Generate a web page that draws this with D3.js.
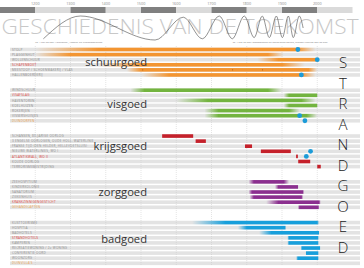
<!DOCTYPE html>
<html>
<head>
<meta charset="utf-8">
<script src="https://cdn.jsdelivr.net/npm/d3@7"></script>
<style>
  body { margin: 0; background: #fff; }
  svg { display: block; font-family: 'Open Sans', sans-serif; }
</style>
</head>
<body>
<script>
const centuryTicks = [1200, 1300, 1400, 1500, 1600, 1700, 1800, 1900, 2000];
const bandStarts = [1100, 1200, 1300, 1400, 1500, 1600, 1700, 1800, 1900, 2000];

// golfbeweging: toppen en dalen (jaar, niveau 0..1)
const waveYears = [1223, 1328, 1540, 1620, 1674, 1722, 1759, 1793, 1821, 1844, 1864, 1884, 1901, 1918, 1932, 1949, 1960];
const waveLevels = [0.05, 1, 0, 0.95, 0.05, 1, 0.05, 1, 0.1, 1, 0.1, 1, 0.1, 1, 0.1, 1, 0.5];

const title = 'GESCHIEDENIS VAN DE TOEKOMST';
const captionLeft = 'ca. 1 per 90 jaar: Agrarische-, Vissers- en Kustsamenleving';
const captionRight = 'ca. 1 per 25 jaar: economische en toeristische golven, nieuwe functies aan de kust';
const sideWord = 'STRANDGOED';

const groupNames = ['schuurgoed', 'visgoed', 'krijgsgoed', 'zorggoed', 'badgoed'];

// bars: [begin vervaging, begin, einde, einde vervaging] in jaren
const schuurLabels = ['STOLP', 'PLAGGENHUT', 'WOLLENSCHUUR', 'SCHAPENBOET', 'MEESTOOF / SCHOENMAKERIJ / VLAS', 'HALLENBOERDERIJ'];
const schuurKinds = ['', '', '', 'focus', '', ''];
const schuurBars = [[1200, 1380, 1945, 1995], [1200, 1300, 1860, 1905], [1830, 1890, 2000, 2002], [1380, 1500, 1900, 1965], [1460, 1500, 1975, 2000], [1500, 1580, 1955, 1995]];
const schuurDots = [[0, 1945], [2, 2000], [5, 1955]];
const schuurMarks = [[4, 1505], [4, 1760], [4, 1845]];

const visLabels = ['WINDSCHUUR', 'VISAFSLAG', 'HAVENTOREN', 'KOELHUIZEN', 'ROKERIJEN', 'VISSERSHUISJES', 'DUINDORPEN'];
const visKinds = ['', 'focus', '', '', '', '', 'toekomst'];
const visBars = [[1470, 1510, 1860, 1900], [1905, 1920, 2000, 2000], [1600, 1690, 1955, 1995], [1905, 1920, 2000, 2000], [1680, 1720, 1920, 1950], [1680, 1720, 1970, 2000], null];
const visDots = [[5, 1950], [6, 1965]];

const krijgLabels = ['SCHANSEN, 80-JARIGE OORLOG', '3 ENGELSE OORLOGEN, OUDE HOLL. WATERLINIE', 'FRANSE TIJD (DEN HELDER, HELLEVOETSLUIS)', 'NIEUWE WATERLINIES, WO I', 'ATLANTIKWALL, WO II', 'KOUDE OORLOG', 'TERRORISMEBESTRIJDING'];
const krijgKinds = ['', '', '', '', 'focus', '', ''];
const krijgBars = [[1560, 1560, 1648, 1648], [1655, 1655, 1684, 1684], [1795, 1795, 1815, 1815], [1840, 1840, 1925, 1925], [1940, 1940, 1945, 1945], [1946, 1946, 1980, 1980], [2000, 2000, 2010, 2010]];
const krijgDots = [[3, 1981], [4, 1969]];

const zorgLabels = ['ZEEHOSPITIUM', 'KINDERKOLONIE', 'SANATORIUM', 'ZIEKENHUIS', 'KRANKZINNIGENGESTICHT', 'GEHANDICAPTEN'];
const zorgKinds = ['', '', '', '', 'focus', 'toekomst'];
const zorgBars = [[1805, 1820, 1905, 1920], [1880, 1890, 1945, 1947], [1805, 1815, 1960, 1962], [1808, 1820, 1955, 1960], [1855, 1890, 2005, 2010], [1945, 1950, 2003, 2005]];
const zorgDots = [];

const badLabels = ['KUSTTOERISME', 'HOSPITIA', 'BADHOTELS', 'STRANDHOTELS', 'KAMPEREN', 'RECREATIEWONING / 2e WONING', 'CONFERENTIE OORD', 'WOONZORG', "DUINVILLA'S"];
const badKinds = ['', '', '', 'focus', '', '', '', '', 'toekomst'];
const badBars = [[1645, 1740, 2000, 2005], [1775, 1800, 1910, 1910], [1835, 1870, 2005, 2005], [1915, 1920, 2003, 2003], [1915, 1920, 2003, 2003], [1955, 1955, 2008, 2008], [1968, 1968, 2003, 2003], [1940, 1945, 2003, 2003], null];
const badDots = [];

const groupColors = ['#f39531', '#73b43f', '#c5212b', '#8b2f8f', '#179fdb'];
const kindColors = { '': '#8c8c8c', focus: '#e2423b', toekomst: '#eda54c' };

const width = 364;
const height = 268;

function init() {
  const svg = d3.select('body')
    .append('svg')
    .attr('width', width)
    .attr('height', height);
  const defs = svg.append('defs');

  const x = d3.scaleLinear().domain([1100, 2100]).range([0, 352.5]);

  // tijdbalk
  svg.selectAll('rect.band')
    .data(bandStarts)
    .enter()
    .append('rect')
    .attr('x', d => x(d))
    .attr('y', 7)
    .attr('width', d => x(d + 100) - x(d))
    .attr('height', 6)
    .attr('fill', (d, i) => i % 2 === 0 ? '#808080' : '#dadada');

  svg.selectAll('text.tick')
    .data(centuryTicks)
    .enter()
    .append('text')
    .attr('x', d => x(d))
    .attr('y', 5)
    .attr('text-anchor', 'middle')
    .attr('font-size', 3.8)
    .attr('fill', '#8a8a8a')
    .text(d => d);

  svg.append('text')
    .attr('x', 1.5)
    .attr('y', 33.5)
    .attr('font-size', 20)
    .attr('font-weight', 300)
    .attr('fill', '#c8c8c8')
    .attr('textLength', 357)
    .attr('lengthAdjust', 'spacingAndGlyphs')
    .text(title);

  const yWave = d3.scaleLinear().domain([0, 1]).range([40, 16]);
  const wave = d3.line()
    .x(d => x(d[0]))
    .y(d => yWave(d[1]))
    .curve(d3.curveMonotoneX);
  svg.append('path')
    .attr('d', wave(d3.zip(waveYears, waveLevels)))
    .attr('fill', 'none')
    .attr('stroke', '#4a4a4a')
    .attr('stroke-width', 0.6);

  svg.append('text').attr('x', x(1200)).attr('y', 43.3)
    .attr('font-size', 2.5).attr('fill', '#777').text(captionLeft);
  svg.append('text').attr('x', x(1760)).attr('y', 43.3)
    .attr('font-size', 2.5).attr('fill', '#777').text(captionRight);

  // groepen en rijen
  const groups = [
    { labels: schuurLabels, kinds: schuurKinds, bars: schuurBars, dots: schuurDots, marks: schuurMarks },
    { labels: visLabels, kinds: visKinds, bars: visBars, dots: visDots, marks: [] },
    { labels: krijgLabels, kinds: krijgKinds, bars: krijgBars, dots: krijgDots, marks: [] },
    { labels: zorgLabels, kinds: zorgKinds, bars: zorgBars, dots: zorgDots, marks: [] },
    { labels: badLabels, kinds: badKinds, bars: badBars, dots: badDots, marks: [] }
  ];
  let idx = 0;
  groups.forEach((g, gi) => {
    g.start = idx;
    g.name = groupNames[gi];
    g.color = groupColors[gi];
    idx += g.labels.length + 2;
  });
  const lastRow = idx - 3;
  const y = d3.scaleLinear().domain([0, lastRow]).range([49.5, 263.3]);
  const rowH = 3.6;

  const rows = groups.flatMap((g, gi) => g.labels.map((label, i) => ({
    row: g.start + i, label, kind: g.kinds[i], bar: g.bars[i], color: g.color, gi
  })));

  svg.selectAll('rect.row')
    .data(rows)
    .enter()
    .append('rect')
    .attr('x', 10)
    .attr('y', d => y(d.row) - rowH / 2)
    .attr('width', 350)
    .attr('height', rowH)
    .attr('fill', '#e3e3e3');

  svg.selectAll('line.grid')
    .data(centuryTicks)
    .enter()
    .append('line')
    .attr('x1', d => x(d))
    .attr('x2', d => x(d))
    .attr('y1', 46)
    .attr('y2', 266)
    .attr('stroke', '#c9c9c9')
    .attr('stroke-width', 0.5)
    .attr('stroke-dasharray', '1,1');

  svg.selectAll('text.rowlabel')
    .data(rows)
    .enter()
    .append('text')
    .attr('x', 12)
    .attr('y', d => y(d.row) + 1.1)
    .attr('font-size', 3.1)
    .attr('letter-spacing', 0.25)
    .attr('fill', d => kindColors[d.kind])
    .text(d => d.label);

  const barRows = rows.filter(d => d.bar);
  barRows.forEach((d, i) => {
    const [a, b, c, e] = d.bar;
    if (a === b && c === e) { d.fill = d.color; return; }
    const span = x(e) - x(a);
    const grad = defs.append('linearGradient')
      .attr('id', 'g' + i)
      .attr('gradientUnits', 'userSpaceOnUse')
      .attr('x1', x(a)).attr('x2', x(e))
      .attr('y1', 0).attr('y2', 0);
    const stops = [
      [0, a === b ? 1 : 0],
      [(x(b) - x(a)) / span, 1],
      [(x(c) - x(a)) / span, 1],
      [1, c === e ? 1 : 0]
    ];
    grad.selectAll('stop')
      .data(stops)
      .enter()
      .append('stop')
      .attr('offset', s => s[0])
      .attr('stop-color', d.color)
      .attr('stop-opacity', s => s[1]);
    d.fill = 'url(#g' + i + ')';
  });

  svg.selectAll('rect.bar')
    .data(barRows)
    .enter()
    .append('rect')
    .attr('x', d => x(d.bar[0]))
    .attr('y', d => y(d.row) - rowH / 2)
    .attr('width', d => Math.max(1, x(d.bar[3]) - x(d.bar[0])))
    .attr('height', rowH)
    .attr('fill', d => d.fill);

  const marks = groups.flatMap(g => g.marks.map(m => ({ row: g.start + m[0], year: m[1] })));
  svg.selectAll('rect.mark')
    .data(marks)
    .enter()
    .append('rect')
    .attr('x', d => x(d.year) - 0.4)
    .attr('y', d => y(d.row) - 0.6)
    .attr('width', 0.8)
    .attr('height', 1.2)
    .attr('fill', '#a85f1a');

  const dots = groups.flatMap(g => g.dots.map(m => ({ row: g.start + m[0], year: m[1] })));
  svg.selectAll('circle.dot')
    .data(dots)
    .enter()
    .append('circle')
    .attr('cx', d => x(d.year))
    .attr('cy', d => y(d.row))
    .attr('r', 2.4)
    .attr('fill', '#1b9bd8');

  // groepsnamen
  const labelAt = [3.2, 11.4, 19.8, 28.8, 38.0];
  svg.selectAll('text.group')
    .data(groups)
    .enter()
    .append('text')
    .attr('x', 147)
    .attr('y', (d, i) => y(labelAt[i]))
    .attr('text-anchor', 'end')
    .attr('font-size', 11.2)
    .attr('fill', '#333')
    .text(d => d.name);

  // STRANDGOED verticaal
  const yLetter = d3.scaleLinear().domain([0, sideWord.length - 1]).range([68, 252.5]);
  svg.selectAll('text.side')
    .data(sideWord.split(''))
    .enter()
    .append('text')
    .attr('x', 343)
    .attr('y', (d, i) => yLetter(i))
    .attr('text-anchor', 'middle')
    .attr('font-size', 15)
    .attr('font-weight', 300)
    .attr('fill', '#222')
    .text(d => d);
}

init();
</script>
</body>
</html>
